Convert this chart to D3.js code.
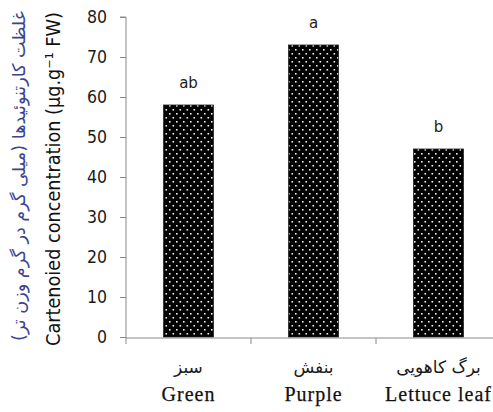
<!DOCTYPE html>
<html><head><meta charset="utf-8">
<script src="https://cdn.jsdelivr.net/npm/d3@7"></script>
<style>
html,body{margin:0;padding:0;background:#fff;}
svg{display:block;}
</style></head>
<body>
<svg id="chart" width="493" height="412"></svg>
<script>
const categoriesEn = ["Green", "Purple", "Lettuce leaf"];
const categoriesFa = ["سبز", "بنفش", "برگ کاهویی"];
const values = [58, 73, 47];
const groupLetters = ["ab", "a", "b"];
const yTicks = [0, 10, 20, 30, 40, 50, 60, 70, 80];
const yTitleEn = "Cartenoied concentration (µg.g\u207B\u00B9 FW)";
const yTitleFa = "غلظت کارتنوئیدها (میلی گرم در گرم وزن تر)";

(function () {
const svg = d3.select("#chart");
const mLeft = 126, mRight = 501, mTop = 17, mBottom = 337;

const x = d3.scaleBand().domain(categoriesEn).range([mLeft, mRight]).padding(0);
const y = d3.scaleLinear().domain([0, 80]).range([mBottom, mTop]);

// pattern
const defs = svg.append("defs");
const pat = defs.append("pattern").attr("id", "dots").attr("patternUnits", "userSpaceOnUse")
  .attr("width", 7).attr("height", 8);
pat.append("rect").attr("width", 7).attr("height", 8).attr("fill", "#000");
pat.append("rect").attr("x", 1).attr("y", 1).attr("width", 1.6).attr("height", 1.6).attr("fill", "#eee");
pat.append("rect").attr("x", 4.5).attr("y", 5).attr("width", 1.6).attr("height", 1.6).attr("fill", "#eee");

const barW = x.bandwidth() * 0.4;

// bars
svg.append("g").selectAll("rect").data(values).join("rect")
  .attr("x", (d, i) => x(categoriesEn[i]) + (x.bandwidth() - barW) / 2)
  .attr("y", d => y(d))
  .attr("width", barW)
  .attr("height", d => y(0) - y(d))
  .attr("fill", "url(#dots)")
  .attr("stroke", "#222").attr("stroke-width", 0.8);

// letters
svg.append("g").selectAll("text").data(values).join("text")
  .attr("x", (d, i) => x(categoriesEn[i]) + x.bandwidth() / 2)
  .attr("y", d => y(d) - 17)
  .attr("text-anchor", "middle")
  .attr("font-family", "DejaVu Sans, sans-serif")
  .attr("font-size", 15)
  .attr("fill", "#222")
  .text((d, i) => groupLetters[i]);

// y axis
const yAxis = d3.axisLeft(y).tickValues(yTicks).tickSize(6).tickPadding(13).tickFormat(d3.format("d"));
const gy = svg.append("g").attr("transform", `translate(${mLeft},0)`).call(yAxis);
gy.select(".domain").attr("stroke", "#8a8a8a").attr("d", `M-6,${mTop}H0V${mBottom + 1}`);
gy.selectAll(".tick line").attr("stroke", "#8a8a8a");
gy.selectAll(".tick text").attr("font-family", "DejaVu Sans Condensed, DejaVu Sans, sans-serif")
  .attr("font-size", 17.5).attr("fill", "#1a1a1a");

// x axis
const gx = svg.append("g").attr("transform", `translate(0,${mBottom + 1})`);
gx.append("line").attr("x1", mLeft).attr("x2", mRight).attr("stroke", "#8a8a8a");
gx.selectAll("line.tk").data(categoriesEn).join("line").attr("class", "tk")
  .attr("x1", d => x(d)).attr("x2", d => x(d)).attr("y1", 0).attr("y2", 6).attr("stroke", "#8a8a8a");

// category labels
svg.append("g").selectAll("text").data(categoriesFa).join("text")
  .attr("x", (d, i) => x(categoriesEn[i]) + x.bandwidth() / 2)
  .attr("y", 373)
  .attr("text-anchor", "middle")
  .attr("direction", "rtl")
  .attr("font-family", "DejaVu Sans, sans-serif")
  .attr("font-size", 17)
  .attr("fill", "#1a1a1a")
  .text(d => d);
svg.append("g").selectAll("text").data(categoriesEn).join("text")
  .attr("x", d => x(d) + x.bandwidth() / 2)
  .attr("y", 401)
  .attr("text-anchor", "middle")
  .attr("font-family", "Liberation Serif, serif")
  .attr("font-size", 20)
  .attr("letter-spacing", 1)
  .attr("fill", "#111")
  .attr("stroke", "#111").attr("stroke-width", 0.25)
  .text(d => d);

// y titles
function fitText(sel, target) {
  const len = sel.node().getComputedTextLength();
  const fs = parseFloat(sel.attr("font-size"));
  sel.attr("font-size", fs * target / len);
}
const tEn = svg.append("text")
  .attr("transform", "translate(60,179) rotate(-90)")
  .attr("text-anchor", "middle")
  .attr("font-family", "DejaVu Sans Condensed, DejaVu Sans, sans-serif")
  .attr("font-size", 17)
  .attr("fill", "#111")
  .text(yTitleEn);
fitText(tEn, 334);
const tFa = svg.append("text")
  .attr("transform", "translate(25,176) rotate(-90)")
  .attr("text-anchor", "middle")
  .attr("direction", "rtl")
  .attr("font-family", "DejaVu Sans, sans-serif")
  .attr("font-size", 15)
  .attr("fill", "#3a4590")
  .text(yTitleFa);
fitText(tFa, 330);
})();
</script>
</body></html>
